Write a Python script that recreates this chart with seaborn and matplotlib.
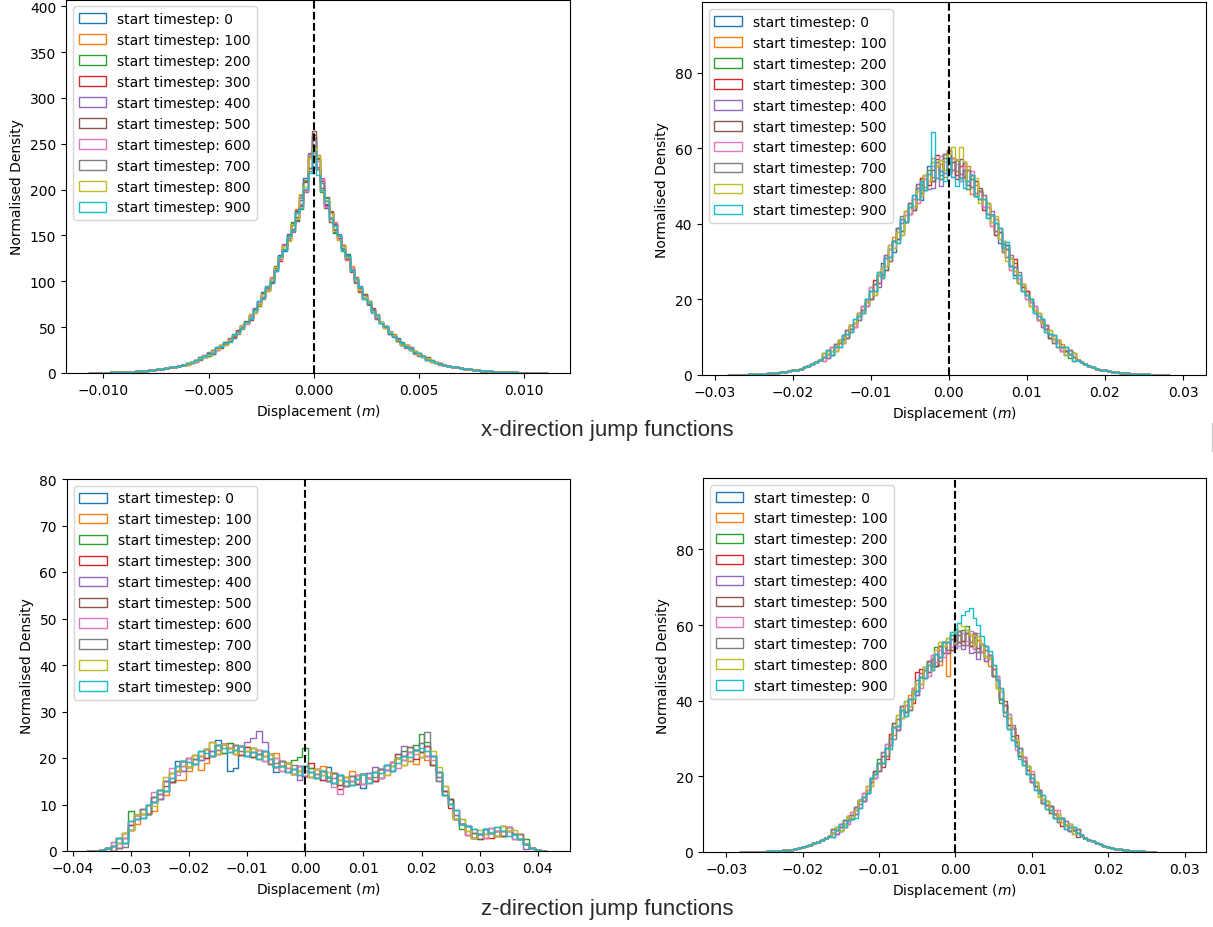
import numpy as np
import pandas as pd
import matplotlib
matplotlib.use("Agg")
import matplotlib.pyplot as plt
from matplotlib.patches import Patch
from matplotlib.lines import Line2D
import seaborn as sns

START_TIMESTEPS = [0, 100, 200, 300, 400, 500, 600, 700, 800, 900]
SERIES_LABELS = [f"start timestep: {t}" for t in START_TIMESTEPS]
ROW_TITLES = ["x-direction jump functions", "z-direction jump functions"]
X_LABEL = "Displacement ($m$)"
Y_LABEL = "Normalised Density"

# ---------------- panel A: x-direction, left (narrow, peaked) ----------------
A_BIN_LO, A_BIN_W = -0.0107, 0.0002
A_BASE = [0.1, 0.15, 0.22, 0.3, 0.45, 0.6, 0.75, 0.9, 1.1, 1.3, 1.6, 1.9, 2.2, 2.6, 3, 3.5, 4, 4.5, 5.2, 6,
          7, 8, 9, 10, 11.5, 13, 15.5, 18, 20.5, 23, 26, 29, 32, 36, 40, 45, 50, 55, 61, 68,
          76, 84, 92, 101, 113, 126, 137, 148, 159, 172, 186, 205, 228,
          250,
          228, 205, 186, 172, 159, 148, 137, 126, 113, 101, 92, 84, 76, 68, 61, 55, 50, 45, 40, 36,
          32, 29, 26, 23, 20.5, 18, 15.5, 13, 11.5, 10, 9, 8, 7, 6, 5.2, 4.5, 4, 3.5, 3, 2.6,
          2.2, 1.9, 1.6, 1.3, 1.1, 0.9, 0.75, 0.6, 0.45, 0.3, 0.22, 0.15, 0.1, 0.06, 0.03]
A_DEV_START = 23
A_DEV = [
    [1, -1, 0, 2, -1, 1, -2, 1, 0, 2, -1, -2, 1, 2, -1, 3, -2, 1, 4, -3, 2, -1, 3, -4, 2, 5, -6, 3, 8, -4, 6, -5, 7, -3, 4, -6, 3, -2, 4, -1, 2, -3, 1, 3, -2, 2, -1, 1, -2, 0, 1, -1, 2, -1, 0, 1, -1, 1, 0, -1, 1],
    [-1, 0, 1, -1, 2, -2, 0, 1, -1, 1, 2, -1, 0, -2, 1, -2, 3, -1, -3, 2, 4, -2, 1, 3, -3, -4, 7, -2, -5, 9, -3, 10, -6, 2, -4, 5, -3, 2, -1, 4, -2, -3, 2, 1, -2, 3, 1, -1, 0, 2, -1, -1, 1, 0, -2, 1, 1, -1, 0, 1, -1],
    [0, 1, -1, 1, 0, -2, 2, -1, 1, 0, -1, 2, -1, 1, 0, 2, -1, -3, 2, 1, -2, 4, -1, -3, 3, 6, -2, -7, 4, 11, -3, 5, -8, 6, 2, -5, 2, -4, 3, 1, -2, 2, -3, 2, -1, 1, 0, 1, -1, 1, -1, 2, 0, -1, 1, -2, 0, 1, -1, 1, 0],
    [1, 0, -1, 0, 1, 1, -1, 2, -2, 0, 1, -1, 2, 0, -1, -3, 2, 2, -1, -2, 3, 1, -4, 2, -1, 3, 5, -4, -6, 7, 9, -5, 4, -2, -7, 3, -1, 3, -2, -3, 4, 1, -2, -1, 2, -2, 1, 0, -1, 1, 2, -1, 0, 1, -1, 0, 1, 0, -1, 0, 1],
    [-1, 1, 1, 0, -1, 0, 2, -1, -1, 1, 0, 1, -2, 1, 0, 1, 3, -2, -1, 3, -3, 2, -2, 4, -1, -5, 4, 6, -8, 12, -6, -3, 8, -4, 5, -2, 4, -1, -3, 2, -2, 3, -1, 2, 1, -2, -1, -1, 1, 0, 0, 1, -2, 1, 1, -1, 0, -1, 1, 0, 0],
    [0, -1, 1, 1, -1, 1, -2, 0, 1, 2, -1, 0, 1, -1, 2, -1, 2, -2, 3, -1, -2, 3, 2, -2, 4, -2, -5, 8, 3, -4, 14, 6, -3, -6, 4, -3, 2, 3, -2, -1, 2, -4, 2, -1, 3, -1, 1, 0, -2, 1, -1, 1, 1, -1, 0, 1, -1, 2, 0, -1, 0],
    [1, 1, -1, 0, 2, -1, 0, -1, 2, -2, 1, 1, -1, 0, -2, 2, -3, 1, 2, -1, 3, -2, -3, 2, 1, 4, -3, 5, -6, 8, -10, 3, 7, -5, -2, 6, -2, 1, -3, 2, 3, -1, -2, 2, -3, 1, 0, 1, 1, -1, 0, -2, 1, 0, 1, -1, -1, 0, 1, 0, -1],
    [0, 0, 1, -1, 0, 2, -1, 1, -1, 0, 2, -2, 1, 1, -1, -1, 2, 3, -2, 1, -3, 2, 1, -2, -3, 2, 6, -3, 5, -8, 4, -6, 2, 5, -7, 2, 1, -2, 2, -1, -3, 2, 1, -2, 2, -1, -1, 1, 0, -1, 1, 0, -1, 2, -1, 0, 1, -1, 0, 1, 1],
    [-1, 1, 0, 1, -1, -1, 1, 0, 2, -1, 0, 1, -1, 2, 0, 3, -1, -2, 2, -3, 1, 3, -1, 2, -4, 3, -4, 9, -2, 6, -5, 8, -6, 3, 2, -4, -3, 2, 1, -2, 3, -2, -1, 3, -1, 2, 1, -1, 0, 1, 0, -1, 1, -1, 1, 0, -1, 1, -1, 0, 0],
    [1, -1, 1, 0, 1, 0, -1, 2, -1, 1, -2, 1, 0, -1, 1, -2, 1, 2, -2, 3, -1, -2, 2, -3, 1, -3, 2, -6, -4, -10, -8, -12, -5, 2, -3, 1, 2, -3, 2, -2, 1, 2, -3, 1, -1, 2, 0, 1, -1, 0, 1, 1, -1, 0, -1, 1, 0, -1, 1, -1, 0],
]

# ---------------- panel B: x-direction, right (gaussian-like) ----------------
B_BIN_LO, B_BIN_W = -0.02825, 0.0005
B_BASE = [0.03, 0.05, 0.07, 0.09, 0.12, 0.15, 0.2, 0.25, 0.3, 0.35, 0.4, 0.5, 0.6, 0.75, 0.9, 1.05, 1.2, 1.45, 1.7, 2.0,
          2.4, 2.9, 3.4, 4.0, 4.7, 5.5, 6.3, 7.3, 8.4, 9.6, 10.9, 12.3, 13.8, 15.5, 17.3, 19.2, 21.2, 23.2, 25.4, 27.6,
          29.9, 32.3, 34.6, 36.9, 39.2, 41.4, 43.6, 45.6, 47.6, 49.3, 50.9, 52.3, 53.4, 54.3, 55.0, 55.4,
          55.5,
          55.4, 55.0, 54.3, 53.4, 52.3, 50.9, 49.3, 47.6, 45.6, 43.6, 41.4, 39.2, 36.9, 34.6, 32.3, 29.9,
          27.6, 25.4, 23.2, 21.2, 19.2, 17.3, 15.5, 13.8, 12.3, 10.9, 9.6, 8.4, 7.3, 6.3, 5.5, 4.7, 4.0, 3.4, 2.9, 2.4,
          2.0, 1.7, 1.45, 1.2, 1.05, 0.9, 0.75, 0.6, 0.5, 0.4, 0.35, 0.3, 0.25, 0.2, 0.15, 0.12, 0.09, 0.07, 0.05, 0.03]
B_DEV_START = 24
B_DEV = [
    [0, 1, -1, 0, 1, 0, -1, 1, 0, -1, 1, 0, 1, -2, 1, 2, -1, 1, -2, 2, -1, 1, 2, -1, 2, -3, 1, 3, -2, 2, -1, 3, -2, 1, 2, -3, 3, -1, 2, -2, 1, -1, 2, -1, 1, -2, 1, 2, -1, 1, -1, 0, 1, 0, -1, 1, 0, 1, -1, 0, 1, 0, -1, 0, 1],
    [-1, 0, 1, -1, 0, 1, 1, -1, 0, 1, -1, 1, -1, 1, 2, -2, 1, -1, 2, 1, -2, 2, -1, 1, -2, 3, -1, 2, 4, -2, 1, -3, 3, 2, -1, -2, 2, 3, -3, 1, -1, 2, -1, -2, 1, 1, -1, 2, -2, 0, 1, -1, 1, -1, 0, 1, -1, 0, 1, 0, -1, 1, 0, 0, -1],
    [1, 0, -1, 1, -1, 0, 1, 0, -1, 1, 0, -1, 2, -1, 1, -1, -2, 1, 1, 2, -1, -1, 2, -2, 1, 2, -2, -1, 3, 1, -3, 2, 4, -1, 2, -2, 1, -3, 2, 2, -1, 1, -2, 1, 2, -1, 0, -1, 1, 2, -1, 1, 0, 1, 0, -1, 1, 0, -1, 1, 0, 0, 1, -1, 0],
    [0, -1, 1, 0, 1, -1, 0, 1, -1, 0, 1, 0, -1, 2, -1, 1, 2, -2, 1, -1, 2, -1, 1, 2, -1, 3, 2, -2, 1, 4, -1, 3, -2, 2, -3, 1, 3, -2, -1, 2, 1, -2, 1, 1, -1, 2, -2, 1, -1, 3, -1, 0, 1, 0, 1, -1, 0, 1, 0, -1, 1, -1, 0, 1, 0],
    [1, -1, 0, 1, 0, -1, 1, -1, 0, 1, 0, -1, 1, -1, -2, 1, 2, -1, 1, -2, 1, 2, -1, -1, 2, -2, 1, -3, -4, 2, -5, -2, 1, -3, 2, -1, 1, -2, 2, -1, 1, 1, -1, 2, -2, 1, 0, -1, 2, -1, 1, -1, 0, -1, 1, 0, -1, 1, 0, 1, -1, 0, 0, 1, 0],
    [0, 1, 0, -1, 1, 1, -1, 0, 1, 0, -1, 1, -1, 1, 1, -1, -2, 2, 1, -1, 2, -1, 1, -2, 3, -1, 2, 1, -2, 3, 2, -1, 4, 1, -2, 3, -1, 2, 1, -2, 2, -1, 2, 1, -2, 1, -1, 2, 1, -1, 0, 1, -1, 1, 0, -1, 1, 0, -1, 0, 1, -1, 0, 0, 1],
    [-1, 0, 1, 0, -1, 1, 0, 1, -1, 0, 1, -1, 2, -1, 1, -2, 1, 1, -1, 2, -2, 1, -1, 1, -2, 2, 1, -1, 2, -2, 3, 1, -2, 2, 1, -3, 2, -1, 3, -2, 1, -1, 1, -2, 2, -1, 1, 1, -2, 1, 0, 1, -1, 0, 1, -1, 1, -1, 0, 1, 0, -1, 1, 0, -1],
    [0, 0, -1, 1, 0, 1, -1, 1, 0, -1, 0, 1, -1, 1, 2, -1, 1, -2, 1, 2, 3, -1, 2, -1, 3, 1, -2, 2, -1, 1, -2, 3, 1, -1, 2, -2, 1, 2, -1, -2, 1, 2, -1, 1, -1, 2, -2, 1, -1, 1, 2, -1, 0, 1, -1, 0, 1, 0, 0, -1, 1, 0, -1, 1, 0],
    [1, 0, 0, -1, 1, -1, 0, 1, 0, 1, -1, 0, 1, -2, 1, 1, -1, 2, -1, 1, -2, 2, 1, -1, 1, -2, 2, -1, 3, 1, 2, -1, 3, 5, 2, 6, 3, -1, 2, 3, -2, 1, 2, -1, 3, -1, 1, -2, 1, 0, -1, 1, 0, -1, 0, 1, 0, -1, 1, 0, 1, 0, -1, 0, 1],
    [0, 1, -1, 0, -1, 1, 0, -1, 1, 0, -1, 1, 1, -1, 2, -2, 1, -1, 1, -2, 2, -1, 1, 2, -1, 2, -2, 1, 11, -2, -1, -4, 2, -3, -5, -2, -4, -1, 2, -2, -1, 1, -2, 1, 1, 2, -1, 3, -1, -2, 1, -1, 0, 1, -1, 0, 1, -1, 0, 1, -1, 0, 1, 0, -1],
]

# ---------------- panel C: z-direction, left (broad, bimodal) ----------------
C_BIN_LO, C_BIN_W = -0.0375, 0.001
C_BASE = [0.05, 0.1, 0.3, 0.6, 1.0, 1.7, 2.8, 5.5, 6.8, 8.0, 9.0, 10.6, 12.2, 14.0, 15.8, 17.3, 18.3, 19.1, 19.7, 20.5,
          21.0, 21.5, 21.8, 22.1, 22.2, 21.8, 21.6, 21.4, 21.2, 20.8, 20.4, 19.8, 19.0, 18.3, 17.9, 17.6, 17.3,
          17.2,
          16.9, 16.6, 16.3, 16.0, 15.7, 15.3, 15.0, 15.1, 15.4, 15.5, 15.7, 16.0, 16.7, 17.4, 18.2, 18.9, 19.5, 20.3,
          20.8, 21.2, 21.5, 19.5, 16.0, 13.0, 10.2, 7.8, 5.8, 4.4, 3.8, 3.6, 3.7, 3.9, 4.2, 4.3, 4.2, 3.6, 2.6, 1.5,
          0.7, 0.25, 0.08]
C_DEV_START = 4
C_DEV = [
    [0, 1, -1, 0, 1, -1, 1, 0, -1, 1, -1, 2, -1, 1, 0, -1, 1, -1, 2, -1, -5, -4, 1, -1, 1, 0, -1, 1, -2, 1, 0, -1, 1, -1, 0, 1, -1, 2, -1, 1, 0, -1, 1, -2, 1, -1, 1, 0, -1, 1, 1, -1, 1, 2, -1, 1, -1, 0, 1, -1, 0, 1, -1, 0, 1, 0, -1, 1, 0, -1, 0, 0],
    [-1, 1, 0, 1, -1, 0, -1, -2, -1, -2, -1, -2, -3, -2, -1, -3, -2, -1, 1, 0, 1, -1, 1, 0, -1, 1, 0, -1, 2, -1, 1, -1, 0, 1, 1, -1, 2, -1, 1, -1, 1, 2, -1, 1, 0, -1, 1, -1, 1, 0, -1, -1, -2, -1, -2, 1, 1, -1, 0, 1, 0, -1, 1, 0, -1, 0, 1, 0, -1, 0, 1, 0],
    [1, 0, -1, 3, 1, 0, -1, 1, 0, -1, 1, 0, 1, -1, 0, 1, -1, 0, 1, -1, 1, 0, -1, 1, -1, 0, 1, -1, 1, 0, 1, 2, 3, 5, 1, -1, 1, 0, -1, 1, -1, 0, 1, -1, 0, 1, -1, 1, 0, 1, 2, 1, 2, 4, 2, -1, 0, -1, 1, 0, -1, 1, 0, -1, 1, 0, 0, -1, 1, 0, 0, 1],
    [0, -1, 1, 0, 1, 1, -1, 0, 1, 1, -1, 0, 1, -1, 1, 0, -1, 2, -1, 1, 0, 1, -1, 1, 0, -1, 1, 0, -1, 1, -1, 0, 1, -1, 2, 1, -1, 0, 1, -2, 1, 0, -1, 1, 0, -1, 1, 0, -1, 1, 0, 1, -1, 0, 1, -1, 1, 0, -1, -1, 0, -1, -1, 0, -1, -1, 0, -1, 0, 0, 1, 0],
    [-1, 0, 1, -1, 0, 1, 1, 0, -1, 1, 0, 1, -1, 0, 1, -1, 1, 0, -1, 1, 0, 1, 1, 2, 3, 5, 3, 1, -1, 0, 1, -1, -2, -1, -1, 0, 1, -1, 0, 1, -1, 1, 0, -1, 1, 2, 1, 0, 1, 2, 3, 2, 1, 0, -1, 1, 0, -1, 1, 0, 0, 1, -1, 0, 1, 0, -1, 0, 1, 0, 0, -1],
    [0, 1, 0, -1, 1, 0, -1, 1, 1, 0, -1, 1, 0, 1, -1, 0, 1, -1, 1, 1, 0, -1, 1, 0, -1, 1, 0, 1, -1, 0, 1, 0, -1, 1, 0, -1, 1, 0, 1, -1, 0, 1, -1, 1, 0, 1, -1, 1, 1, 2, 1, 2, 1, 0, 1, -1, 1, 0, 1, -1, 0, 1, 0, -1, 0, 1, 0, -1, 1, 0, 0, 0],
    [1, -1, 0, 1, 0, -1, 1, 2, 0, -1, 2, -1, 0, 1, -1, 0, 1, -1, 0, 1, -1, 0, 1, -1, 0, 1, -1, 0, 1, -1, 0, -1, 1, 0, -1, 1, 0, -1, -2, -3, -1, 0, 1, -1, 0, 1, -1, 0, 1, -1, 0, 1, 0, -1, -1, 0, 1, -1, 0, 1, 0, -1, 1, 0, -1, 1, 0, 0, 1, -1, 0, 0],
    [-1, -1, -2, -1, 0, 1, -1, 1, 0, -1, 1, 0, 1, -1, 0, 1, 1, -1, 0, 1, -1, 1, 0, -1, 1, 0, 1, -1, 0, 1, -1, 1, 0, 1, -1, 0, 1, -1, 1, 0, -1, 1, 0, 1, -1, 0, 1, 1, 0, 1, 1, 2, 1, 2, 4, 1, -1, 1, 0, -1, 1, 0, -1, 0, 1, 0, -1, 1, 0, 0, 1, 0],
    [0, 0, 1, -1, 1, 0, 1, -1, 1, 2, 1, 0, 1, -1, 1, 0, 1, 2, -1, 1, 0, -1, 1, 0, 1, -1, 0, 1, -1, 0, 1, -1, 0, 1, -1, 1, 0, 1, -1, 0, 1, -1, 0, 1, -1, 1, 0, -1, 0, 1, -1, 0, 1, -1, 0, 2, 2, 1, 0, -1, 1, 0, -1, 1, 0, 0, -1, 1, 0, 1, 0, 0],
    [0, 1, -1, 1, 0, -1, 1, 0, 1, -1, 0, 1, 1, 0, -1, 1, 0, -1, 1, 0, -1, 0, 1, -1, 0, -1, 1, 0, -1, 0, -1, 0, -1, 1, 0, -1, 1, 0, -1, 1, 0, -1, 0, 1, -1, 1, 0, 1, -1, 0, 1, 0, 1, 1, 0, 1, 1, -1, 0, 1, 0, 1, 1, 0, 1, 0, 1, 0, -1, 0, 0, 0],
]

# ---------------- panel D: z-direction, right (gaussian-like, slightly skewed) ----------------
D_BIN_LO, D_BIN_W = -0.02825, 0.0005
D_BASE = [0.03, 0.04, 0.05, 0.06, 0.08, 0.1, 0.12, 0.16, 0.2, 0.25, 0.3, 0.4, 0.5, 0.65, 0.8, 1.05, 1.3, 1.6, 1.9, 2.3,
          2.7, 3.2, 3.7, 4.3, 5.0, 5.7, 6.5, 7.5, 8.5, 9.7, 11.0, 12.7, 14.5, 16.5, 18.5, 20.5, 22.5, 24.5, 26.5, 29.2,
          32.0, 34.3, 36.5, 38.0, 39.5, 41.5, 43.5, 45.3, 47.0, 48.5, 50.0, 51.3, 52.5, 53.5, 54.5, 55.3,
          56.0,
          56.5, 56.8, 56.8, 56.5, 55.8, 55.0, 54.0, 52.5, 50.2, 47.5, 44.5, 41.5, 38.0, 34.5, 31.7, 29.0, 26.5, 24.0,
          21.7, 19.5, 17.5, 15.5, 14.0, 12.5, 11.2, 10.0, 9.0, 8.0, 7.2, 6.5, 5.7, 5.0, 4.4, 3.8, 3.3, 2.8, 2.4, 2.0,
          1.7, 1.4, 1.15, 0.9, 0.75, 0.6, 0.45, 0.35, 0.28, 0.2, 0.15, 0.1, 0.07, 0.05]
D_DEV_START = 24
D_DEV = [
    [0, 1, -1, 0, 1, -1, 0, 1, 0, -1, 1, 0, 1, -1, 2, -1, 1, -2, 1, 2, -1, 1, -2, 1, 2, -1, 1, -2, 2, 1, -1, 2, -2, 1, -1, 2, 1, -2, 1, -1, 2, 1, -1, 2, -1, 1, -2, 1, -1, 1, 0, 1, -1, 0, 1, -1, 0, 1, 0, -1, 1, 0, 0, -1, 1],
    [-1, 0, 1, -1, 0, 1, 1, -1, 0, 1, -1, 0, 1, -1, 1, 2, -1, -2, 1, -1, 2, 1, -1, 2, -1, 2, -2, 1, -3, 2, -8, -2, 1, 2, -1, 1, -2, 2, 1, -1, 2, -1, 2, -1, 1, 1, -2, 1, 0, -1, 1, 0, 1, 0, -1, 1, 0, -1, 1, 0, 0, 1, -1, 0, 1],
    [1, 0, -1, 1, 0, -1, 1, 1, -1, 0, 1, -1, 2, -1, -1, 1, 2, -1, 1, -2, 1, 2, -1, 1, 1, 2, -1, 3, -1, 2, 1, 2, 3, -1, 2, 3, -2, 1, 2, -1, 1, 2, -1, 1, -2, 1, 2, -1, 1, 0, -1, 1, 0, 1, 0, -1, 1, 0, -1, 0, 1, 0, -1, 1, 0],
    [0, -1, 1, 0, 1, 0, -1, 1, -1, 0, 1, 1, -1, 1, -2, 2, 1, -1, 2, -1, 1, -2, 4, 3, -1, 2, 1, -2, 2, -1, 1, -2, 0, 2, -1, 1, -2, 2, -1, 1, -2, 1, 1, -1, 2, -1, -1, 1, 2, -1, 1, 0, -1, 0, 1, 0, -1, 1, 0, 1, -1, 0, 1, 0, 0],
    [1, -1, 0, 1, -1, 0, 1, 0, -1, 1, 0, -1, -1, 2, 1, -1, 1, -2, 2, -1, 1, 1, -2, 2, -1, 1, 2, -2, 1, -1, 2, 1, -2, -1, -3, -2, -4, -3, -4, 1, -2, 1, -1, 2, -1, 1, 1, -2, 1, -1, 0, 1, -1, 1, 0, -1, 0, 1, -1, 0, 1, 1, -1, 0, 0],
    [0, 1, 0, -1, 1, -1, 0, 1, 1, -1, 0, 1, 1, -2, 1, -1, 2, 1, -1, 1, -2, 2, -1, 1, 2, -1, 1, -2, -1, 2, -2, 1, 2, -1, -2, 1, -1, 2, -2, 1, -1, 2, -1, 1, -1, 2, -1, 1, 0, -1, 1, -1, 0, -1, 1, 0, 1, -1, 0, 0, 1, -1, 1, 0, -1],
    [-1, 0, 1, 0, -1, 1, 0, -1, 1, 0, 1, -1, 1, -1, 2, -1, 1, 2, -1, 1, -1, 2, 1, -2, 1, -2, 2, -1, 1, -2, 1, -1, 2, -2, 1, -1, 2, -2, 3, -1, 2, 1, -1, 2, 1, -1, 2, 1, -2, 1, 1, -1, 2, 1, 1, -1, 0, 1, -1, 2, 1, -1, 0, 1, 0],
    [1, 0, -1, 1, 0, 0, -1, 1, 0, -1, 1, 0, -1, 2, -1, 1, -2, 1, 2, -1, -2, 1, 2, -1, 1, 2, -1, 1, -2, 2, -1, 1, -1, 2, -2, 1, -1, 2, -2, 1, -1, 2, -1, 1, -1, -2, 1, 2, -1, 1, 0, -1, 1, 0, 1, -1, 0, 1, 0, -1, 1, 0, -1, 0, 1],
    [0, 1, -1, 0, 1, -1, 0, 1, 0, 1, -1, 0, 1, -1, 1, -2, 1, 2, -1, 2, -1, 1, 1, -1, 2, 1, -2, 2, 3, 1, 2, 3, 2, 4, 3, 2, 1, -1, 2, 1, -1, 1, 2, -1, 1, -1, 1, -2, 1, 0, -1, 1, 0, 1, -1, 0, 1, 0, -1, 1, 0, 0, 1, -1, 0],
    [-1, 0, 1, -1, 0, -1, -2, -1, 0, -1, 1, 0, 1, -1, 1, -2, 1, -1, 1, -2, 1, -1, -1, 1, -1, 1, -2, 1, -1, 2, 1, 3, 2, 4, 6, 7, 8, 6, 5, 3, 2, 3, 2, 1, 2, -1, -2, -2, -1, -2, -1, -1, 0, -1, 0, 1, -1, 0, -1, 0, 1, -1, 0, 1, 0],
]

# ---------------- layout (pixel boxes: left, top, right, bottom) ----------------
W, H = 1213, 928
PANELS = [
    dict(lo=A_BIN_LO, w=A_BIN_W, base=A_BASE, dev=A_DEV, ds=A_DEV_START,
         box=(66, 0.5, 570, 374), xlim=(-0.01178, 0.01217), ylim=(0, 407.3)),
    dict(lo=B_BIN_LO, w=B_BIN_W, base=B_BASE, dev=B_DEV, ds=B_DEV_START,
         box=(702, 3.3, 1206, 376), xlim=(-0.03163, 0.03295), ylim=(0, 98.7)),
    dict(lo=C_BIN_LO, w=C_BIN_W, base=C_BASE, dev=C_DEV, ds=C_DEV_START,
         box=(66.7, 480, 570, 852), xlim=(-0.04107, 0.04556), ylim=(0, 80)),
    dict(lo=D_BIN_LO, w=D_BIN_W, base=D_BASE, dev=D_DEV, ds=D_DEV_START,
         box=(703, 479, 1206, 853), xlim=(-0.03305, 0.0328), ylim=(0, 98.9)),
]

colors = sns.color_palette("tab10", 10)
fig = plt.figure(figsize=(W / 100, H / 100), dpi=100)

for p in PANELS:
    l, t, r, b = p["box"]
    ax = fig.add_axes([l / W, 1 - b / H, (r - l) / W, (b - t) / H])
    base = np.array(p["base"], dtype=float)
    n = len(base)
    edges = p["lo"] + p["w"] * np.arange(n + 1)
    centers = 0.5 * (edges[:-1] + edges[1:])
    for i, col in enumerate(colors):
        dev = np.zeros(n)
        d = np.array(p["dev"][i], dtype=float)[: n - p["ds"]]
        dev[p["ds"]: p["ds"] + len(d)] = d
        vals = np.clip(base + dev, 0, None)
        df = pd.DataFrame({"disp": centers, "dens": vals})
        sns.histplot(data=df, x="disp", weights="dens", bins=[float(e) for e in edges],
                     element="step", fill=False, stat="count", color=col, linewidth=1.0, ax=ax)
    ax.axvline(0, color="k", linestyle="--", linewidth=1.5, zorder=5)
    ax.set_xlim(*p["xlim"])
    ax.set_ylim(*p["ylim"])
    ax.set_xlabel(X_LABEL)
    ax.set_ylabel(Y_LABEL)
    handles = [Patch(facecolor="none", edgecolor=c, label=lab) for c, lab in zip(colors, SERIES_LABELS)]
    ax.legend(handles=handles, loc="upper left")

fig.text(607 / W, 1 - 431 / H, ROW_TITLES[0], ha="center", va="center",
         fontsize=16, family="Liberation Sans", color="#2a2a2a")
fig.text(607 / W, 1 - 910 / H, ROW_TITLES[1], ha="center", va="center",
         fontsize=16, family="Liberation Sans", color="#2a2a2a")
# thin separator stub seen at the right edge between the rows
fig.add_artist(Line2D([1211.5 / W, 1211.5 / W], [1 - 424 / H, 1 - 452 / H],
                      color="#c8c8c8", linewidth=1.0, transform=fig.transFigure))

fig.savefig("out.png", dpi=100)
